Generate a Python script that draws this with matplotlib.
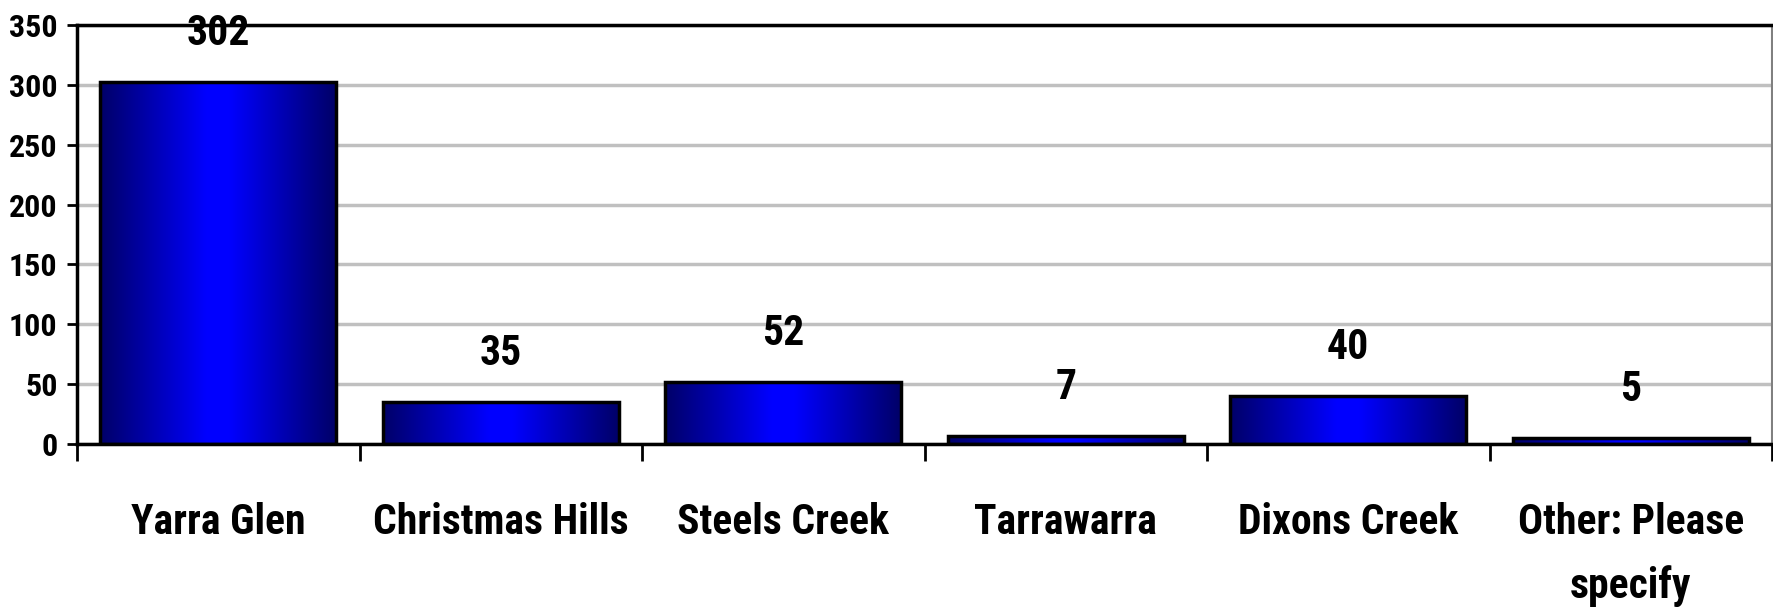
import matplotlib
matplotlib.use("Agg")
import matplotlib.pyplot as plt
import numpy as np
from matplotlib.colors import LinearSegmentedColormap

categories = ["Yarra Glen", "Christmas Hills", "Steels Creek", "Tarrawarra",
              "Dixons Creek", "Other: Please\nspecify"]
counts = [302, 35, 52, 7, 40, 5]
yticks = [0, 50, 100, 150, 200, 250, 300, 350]

plt.rcParams['font.family'] = ['Roboto Condensed', 'DejaVu Sans']
plt.rcParams['font.weight'] = 'bold'

fig = plt.figure(figsize=(17.73, 6.08), dpi=100)
ax = fig.add_axes([77 / 1773, 1 - 444 / 608, 1 - 78 / 1773, (444 - 25) / 608])

x = np.arange(len(categories))
bars = ax.bar(x, counts, width=0.835, color="none", edgecolor="black",
              linewidth=2.5, zorder=3)

# horizontal gradient: navy at edges, bright blue in the middle
cmap = LinearSegmentedColormap.from_list(
    "grad", [(0.0, "#000068"), (0.45, "#0000ff"), (0.55, "#0000ff"), (1.0, "#000068")])
grad = np.linspace(0, 1, 256).reshape(1, -1)
for b in bars:
    x0, y0 = b.get_x(), b.get_y()
    im = ax.imshow(grad, cmap=cmap, aspect="auto", interpolation="bilinear",
                   extent=[x0, x0 + b.get_width(), y0, y0 + b.get_height()],
                   zorder=2)
    im.set_clip_path(b)

for xi, v in zip(x, counts):
    ax.annotate(str(v), (xi, v), xytext=(0, 35), textcoords="offset points",
                ha="center", va="center", fontsize=30, fontweight="bold")

ax.set_xlim(-0.5, len(categories) - 0.5)
ax.set_ylim(0, 350)
ax.set_yticks(yticks)
ax.set_yticklabels([str(t) for t in yticks], fontsize=23, fontweight="bold")
ax.yaxis.grid(True, color="#c0c0c0", linewidth=2.5, zorder=0)
ax.set_axisbelow(True)

ax.set_xticks(x)
ax.set_xticklabels(categories, fontsize=30, fontweight="bold", linespacing=1.65)
ax.set_xticks(np.arange(len(categories) + 1) - 0.5, minor=True)
ax.tick_params(axis="x", which="major", length=0, pad=42)
ax.tick_params(axis="x", which="minor", length=12, width=2)
ax.tick_params(axis="y", length=7, width=2, pad=7)

for s in ["left", "bottom", "top"]:
    ax.spines[s].set_linewidth(2.5)
    ax.spines[s].set_color("black")
ax.spines["right"].set_color("#808080")
ax.spines["right"].set_linewidth(1.5)

fig.savefig("out.png", dpi=100)
